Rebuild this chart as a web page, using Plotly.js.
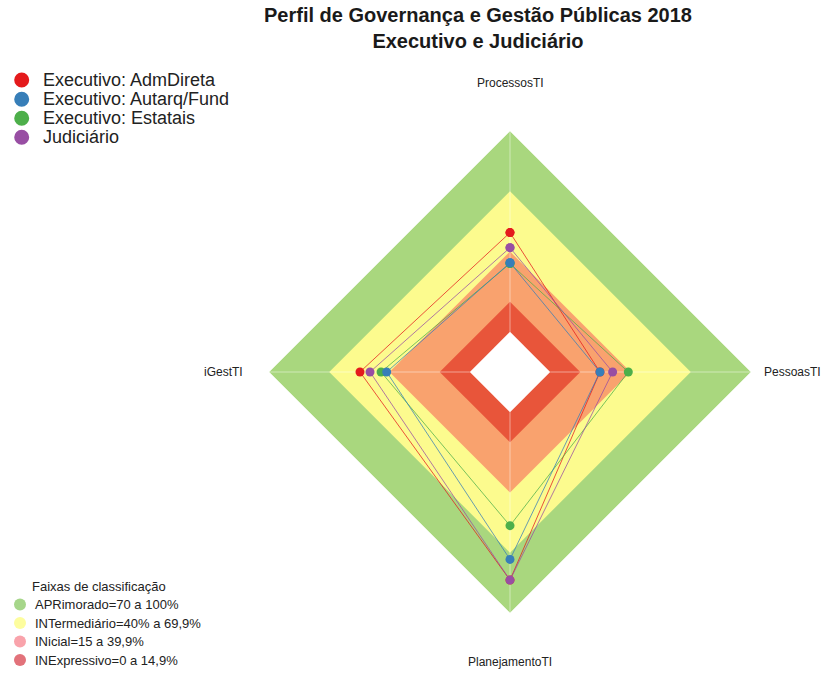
<!DOCTYPE html>
<html>
<head>
<meta charset="utf-8">
<script src="https://cdn.plot.ly/plotly-3.0.1.min.js"></script>
<style>html,body{margin:0;padding:0;background:#fff}#chart{width:837px;height:675px}</style>
</head>
<body>
<div id="chart"></div>
<script>
// ---- data ----
const categories = ['ProcessosTI', 'iGestTI', 'PlanejamentoTI', 'PessoasTI'];
const seriesNames = ['Executivo: AdmDireta', 'Executivo: Autarq/Fund', 'Executivo: Estatais', 'Judiciário'];
const admDireta  = [49.4, 54.7, 83.6, 24.8];
const autarqFund = [34.4, 41.4, 73.3, 24.8];
const estatais   = [34.0, 44.2, 56.5, 38.9];
const judiciario = [41.9, 49.7, 83.6, 31.1];
const seriesColors = ['#E41A1C', '#377EB8', '#4DAF4A', '#984EA3'];
const bandNames = ['APRimorado=70 a 100%', 'INTermediário=40% a 69,9%', 'INicial=15 a 39,9%', 'INExpressivo=0 a 14,9%'];
const bandUpper = [100, 70, 40, 15];
const bandFill = ['#A9D77E', '#FCFB8E', '#F9A26E', '#E8553A'];
const bandKey = ['#A6D68A', '#FDFD9E', '#F9A3AB', '#E2727A'];
const axisMin = -20;
const axisMax = 100;
const innerZero = 0;

const FONT = 'Liberation Sans, Arial, sans-serif';
const W = 837, H = 675;
const px = v => v / W;
const py = v => 1 - v / H;

const closed = arr => arr.concat([arr[0]]);
const thetaClosed = closed(categories);

const traces = [];
// background bands
bandUpper.forEach((u, i) => {
  traces.push({
    type: 'scatterpolar', mode: 'lines', name: bandNames[i],
    r: thetaClosed.map(() => u), theta: thetaClosed,
    fill: 'toself', fillcolor: bandFill[i], line: {width: 0, color: bandFill[i]},
    hoverinfo: 'skip', showlegend: false
  });
});
// white centre
traces.push({
  type: 'scatterpolar', mode: 'lines',
  r: thetaClosed.map(() => innerZero), theta: thetaClosed,
  fill: 'toself', fillcolor: '#FFFFFF', line: {width: 0, color: '#FFFFFF'},
  hoverinfo: 'skip', showlegend: false
});
// spokes
const spokeR = [], spokeT = [];
categories.forEach(c => { spokeR.push(axisMax, innerZero, null); spokeT.push(c, c, c); });
traces.push({
  type: 'scatterpolar', mode: 'lines', r: spokeR, theta: spokeT,
  line: {width: 1, color: 'rgba(255,255,255,0.45)'}, connectgaps: false,
  hoverinfo: 'skip', showlegend: false
});
// series (draw order: AdmDireta, Estatais, Autarq/Fund, Judiciário)
const seriesData = [admDireta, autarqFund, estatais, judiciario];
const order = [0, 2, 1, 3];
const rgba = (hex, a) => {
  const n = parseInt(hex.slice(1), 16);
  return `rgba(${(n >> 16) & 255},${(n >> 8) & 255},${n & 255},${a})`;
};
order.forEach(i => {
  traces.push({
    type: 'scatterpolar', mode: 'lines+markers', name: seriesNames[i],
    r: closed(seriesData[i]), theta: thetaClosed,
    line: {width: 1, color: rgba(seriesColors[i], 0.75)},
    marker: {size: 9, color: seriesColors[i]},
    showlegend: false
  });
});

const annotations = [];
const shapes = [];
// axis labels
annotations.push({text: 'ProcessosTI', x: px(510), y: py(83), xanchor: 'center', yanchor: 'middle'});
annotations.push({text: 'PlanejamentoTI', x: px(510), y: py(662), xanchor: 'center', yanchor: 'middle'});
annotations.push({text: 'iGestTI', x: px(223), y: py(372), xanchor: 'center', yanchor: 'middle'});
annotations.push({text: 'PessoasTI', x: px(792), y: py(372), xanchor: 'center', yanchor: 'middle'});
annotations.forEach(a => { a.xref = 'paper'; a.yref = 'paper'; a.showarrow = false; a.font = {family: FONT, size: 12, color: '#222'}; });

// legend 1 (series)
const leg1Y = [80, 99.3, 118.3, 137.3];
seriesNames.forEach((n, i) => {
  annotations.push({text: n, x: px(40.5), y: py(leg1Y[i]), xref: 'paper', yref: 'paper', xanchor: 'left', yanchor: 'middle',
    showarrow: false, font: {family: FONT, size: 18, color: '#222'}});
  shapes.push({type: 'circle', xref: 'paper', yref: 'paper', x0: px(21.7 - 7.5), x1: px(21.7 + 7.5), y0: py(leg1Y[i] + 7.5), y1: py(leg1Y[i] - 7.5),
    fillcolor: seriesColors[i], line: {width: 0}});
});
// legend 2 (bands)
annotations.push({text: 'Faixas de classificação', x: px(99), y: py(586), xref: 'paper', yref: 'paper', xanchor: 'center', yanchor: 'middle',
  showarrow: false, font: {family: FONT, size: 13, color: '#222'}});
const leg2Y = [604.5, 623, 641.5, 660];
bandNames.forEach((n, i) => {
  annotations.push({text: n, x: px(32.5), y: py(leg2Y[i]), xref: 'paper', yref: 'paper', xanchor: 'left', yanchor: 'middle',
    showarrow: false, font: {family: FONT, size: 13, color: '#222'}});
  shapes.push({type: 'circle', xref: 'paper', yref: 'paper', x0: px(20 - 6), x1: px(20 + 6), y0: py(leg2Y[i] + 6), y1: py(leg2Y[i] - 6),
    fillcolor: bandKey[i], line: {width: 0}});
});

const R = 241, cx = 510, cy = 372;
const layout = {
  width: W, height: H,
  margin: {l: 0, r: 0, t: 0, b: 0},
  paper_bgcolor: '#FFFFFF',
  showlegend: false,
  title: {
    text: '<b>Perfil de Governança e Gestão Públicas 2018<br>Executivo e Judiciário</b>',
    x: 478 / W, xanchor: 'center', xref: 'container',
    y: 1 - 22 / H, yanchor: 'top', yref: 'container',
    font: {family: FONT, size: 20, color: '#1a1a1a'}
  },
  polar: {
    domain: {x: [(cx - R) / W, (cx + R) / W], y: [(H - cy - R) / H, (H - cy + R) / H]},
    bgcolor: 'rgba(0,0,0,0)',
    gridshape: 'linear',
    radialaxis: {range: [axisMin, axisMax], visible: false, showgrid: false},
    angularaxis: {type: 'category', categoryarray: categories, rotation: 90, direction: 'counterclockwise',
      showticklabels: false, ticks: '', showline: false, showgrid: false}
  },
  annotations: annotations,
  shapes: shapes
};

Plotly.newPlot('chart', traces, layout, {displayModeBar: false, staticPlot: true});
</script>
</body>
</html>
